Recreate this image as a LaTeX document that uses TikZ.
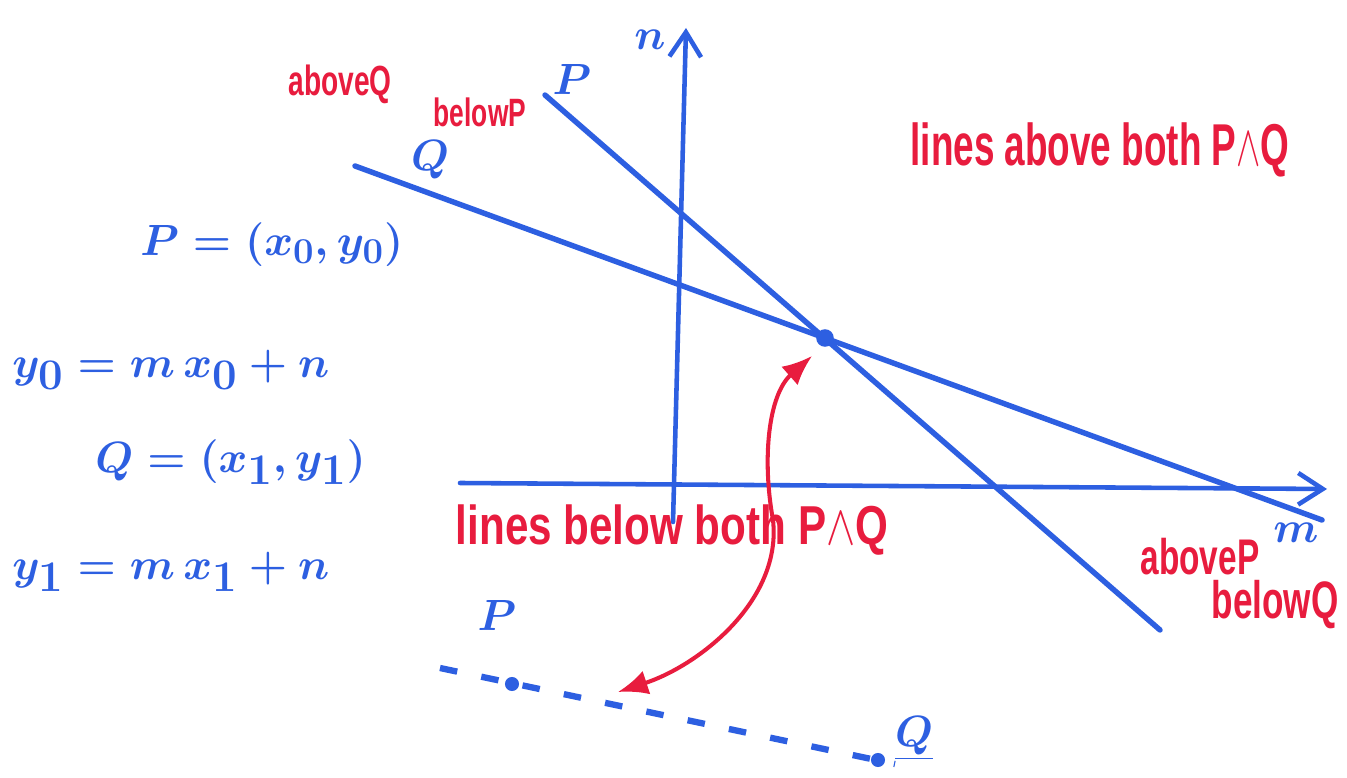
\documentclass[tikz,border=0pt]{standalone}
\usepackage{fontspec}
\setmainfont{Liberation Sans}
\usetikzlibrary{arrows.meta}
\definecolor{pen}{RGB}{45,95,225}
\definecolor{ink}{RGB}{232,28,62}
\newcommand\hw[2][1.5]{\scalebox{1}[#1]{\bfseries #2}}
\begin{document}
\begin{tikzpicture}[x=0.2mm,y=-0.2mm,
  blueline/.style={draw=pen,line width=3.1pt,line cap=round},
  axisline/.style={draw=pen,line width=2.6pt,line cap=round,-{Straight Barb[length=14pt,width=18pt,line width=2.6pt]}},
  redarrow/.style={draw=ink,line width=2.3pt,{Latex[length=17pt,width=14pt]}-{Latex[length=17pt,width=14pt]}},
  bluetxt/.style={text=pen,inner sep=0pt,execute at begin node=\boldmath},
  redtxt/.style={text=ink,inner sep=0pt},
  dashline/.style={draw=pen,line width=3.6pt,dash pattern=on 10pt off 14pt}]
\useasboundingbox[fill=white] (0,0) rectangle (1347,778);

% axes
\coordinate (nb) at (673,522);
\coordinate (nt) at (686,28);
\coordinate (mb) at (460,483);
\coordinate (mt) at (1327,489);
\draw[axisline] (nb) -- (nt);
\draw[axisline] (mb) -- (mt);
\node[bluetxt,font=\fontsize{26}{26}\selectfont] (nlab) at (650,40) {$n$};
\node[bluetxt,font=\fontsize{26}{26}\selectfont] (mlab) at (1296,533) {$m$};

% lines P and Q
\coordinate (P1) at (545,95);
\coordinate (P2) at (1160,630);
\coordinate (Q1) at (355,166);
\coordinate (Q2) at (1322,520);
\draw[blueline] (P1) -- (P2);
\draw[blueline] (Q1) -- (Q2);
\node[circle,fill=pen,minimum size=10pt,inner sep=0pt] (X) at (825,338) {};
\node[bluetxt,font=\fontsize{28}{28}\selectfont] (Plab) at (572,80) {$P$};
\node[bluetxt,font=\fontsize{28}{28}\selectfont] (Qlab) at (430,160) {$Q$};

% red labels
\node[redtxt,font=\fontsize{16}{16}\selectfont] (aQ) at (340,84) {\hw{aboveQ}};
\node[redtxt,font=\fontsize{15}{15}\selectfont] (bP) at (480,112) {\hw{belowP}};
\node[redtxt,font=\fontsize{21}{21}\selectfont] (above) at (1100,150) {\hw[1.6]{lines above both P$\wedge$Q}};
\node[redtxt,font=\fontsize{24}{24}\selectfont] (below) at (672,530) {\hw[1.3]{lines below both P$\wedge$Q}};
\node[redtxt,font=\fontsize{19}{19}\selectfont] (aP) at (1200,557) {\hw{aboveP}};
\node[redtxt,font=\fontsize{20}{20}\selectfont] (bQ) at (1275,605) {\hw{belowQ}};

% formulas
\node[bluetxt,anchor=west,font=\fontsize{31}{31}\selectfont] (f1) at (140,245) {$P=(x_0,y_0)$};
\node[bluetxt,anchor=west,font=\fontsize{36}{36}\selectfont] (f2) at (12,370) {$y_0=m\,x_0+n$};
\node[bluetxt,anchor=west,font=\fontsize{33}{33}\selectfont] (f3) at (95,462) {$Q=(x_1,y_1)$};
\node[bluetxt,anchor=west,font=\fontsize{34}{34}\selectfont] (f4) at (12,572) {$y_1=m\,x_1+n$};

% red double arrow
\coordinate (ra) at (812,356);
\coordinate (rb) at (618,692);
\draw[redarrow] (ra) .. controls (768,395) and (762,460) .. (773,520) .. controls (782,600) and (700,665) .. (rb);

% dashed dual line
\coordinate (d1) at (440,668);
\coordinate (d2) at (895,764);
\draw[dashline] (d1) -- (d2);
\node[circle,fill=pen,minimum size=8pt,inner sep=0pt] (dP) at (512,684) {};
\node[circle,fill=pen,minimum size=8pt,inner sep=0pt] (dQ) at (878,760) {};
\node[bluetxt,font=\fontsize{28}{28}\selectfont] (bPlab) at (497,615) {$P$};
\node[bluetxt,font=\fontsize{28}{28}\selectfont] (bQlab) at (914,738) {$\underline{Q}$};
\end{tikzpicture}
\end{document}
